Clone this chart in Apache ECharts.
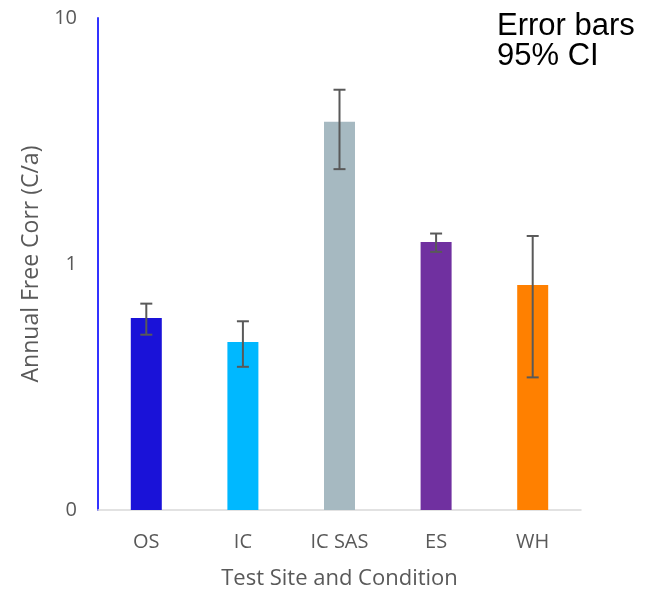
<!DOCTYPE html>
<html>
<head>
<meta charset="utf-8">
<script src="https://cdn.jsdelivr.net/npm/echarts@6/dist/echarts.min.js"></script>
<style>
  html, body { margin: 0; padding: 0; background: #fff; }
  #chart { width: 646px; height: 590px; }
</style>
</head>
<body>
<div id="chart"></div>
<script>
// Annual free corrosion by test site, with 95% confidence intervals
const categories = ['OS', 'IC', 'IC SAS', 'ES', 'WH'];
const meanValues = [0.603, 0.482, 3.79, 1.23, 0.822];
const ciLower = [0.516, 0.382, 2.43, 1.12, 0.346];
const ciUpper = [0.690, 0.585, 5.11, 1.33, 1.30];
const barColors = ['#1a12d8', '#00b8ff', '#a6b9c1', '#7030a0', '#ff8000'];
const yTicks = [0.1, 1, 10];
const axisFloor = 0.1;

const chart = echarts.init(document.getElementById('chart'));

const barData = categories.map((c, i) => [i, meanValues[i]]);
const errorData = categories.map((c, i) => [i, ciLower[i], ciUpper[i]]);

chart.setOption({
  animation: false,
  backgroundColor: '#ffffff',
  grid: { left: 98, right: 65, top: 18, bottom: 80, outerBoundsMode: 'none', containLabel: false },
  graphic: [{
    type: 'text',
    left: 497,
    top: 11,
    style: {
      text: 'Error bars\n95% CI',
      font: '31px "Liberation Sans", Arial, sans-serif',
      lineHeight: 30,
      fill: '#000000'
    }
  }],
  xAxis: {
    type: 'category',
    data: categories,
    name: 'Test Site and Condition',
    nameLocation: 'middle',
    nameGap: 58,
    nameTextStyle: { fontFamily: 'Open Sans', fontSize: 22, color: '#595959' },
    axisLine: { lineStyle: { color: '#d9d9d9', width: 1.5 } },
    axisTick: { show: false },
    axisLabel: { fontFamily: 'Open Sans', fontSize: 20, color: '#595959', margin: 22 }
  },
  yAxis: {
    type: 'log',
    logBase: 10,
    min: axisFloor,
    max: 10,
    name: 'Annual Free Corr (C/a)',
    nameLocation: 'middle',
    nameGap: 52,
    nameTextStyle: { fontFamily: 'Open Sans', fontSize: 23, color: '#595959' },
    axisLine: { show: true, lineStyle: { color: '#3333ff', width: 2 } },
    axisTick: { show: false },
    splitLine: { show: false },
    axisLabel: {
      fontFamily: 'Open Sans', fontSize: 20, color: '#595959', margin: 21,
      formatter: v => {
        const t = yTicks.find(k => Math.abs(k - v) < 1e-6);
        return t === undefined ? '' : String(Math.round(t));
      }
    }
  },
  series: [
    {
      // bars rise from the bottom of the log axis
      type: 'custom',
      data: barData,
      z: 5,
      renderItem: (params, api) => {
        const idx = api.value(0);
        const top = api.coord([idx, api.value(1)]);
        const base = api.coord([idx, axisFloor]);
        const w = 31;
        return {
          type: 'rect',
          shape: { x: top[0] - w / 2, y: top[1], width: w, height: base[1] - top[1] },
          style: { fill: barColors[params.dataIndex] }
        };
      }
    },
    {
      type: 'custom',
      data: errorData,
      z: 10,
      renderItem: (params, api) => {
        const idx = api.value(0);
        const lo = api.coord([idx, api.value(1)]);
        const hi = api.coord([idx, api.value(2)]);
        const hw = 6;
        const style = { stroke: '#595959', lineWidth: 2 };
        return {
          type: 'group',
          children: [
            { type: 'line', shape: { x1: lo[0], y1: lo[1], x2: hi[0], y2: hi[1] }, style },
            { type: 'line', shape: { x1: hi[0] - hw, y1: hi[1], x2: hi[0] + hw, y2: hi[1] }, style },
            { type: 'line', shape: { x1: lo[0] - hw, y1: lo[1], x2: lo[0] + hw, y2: lo[1] }, style }
          ]
        };
      }
    }
  ]
});
</script>
</body>
</html>
